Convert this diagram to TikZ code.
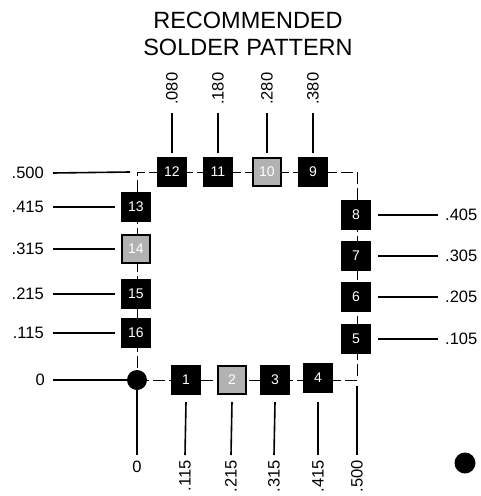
\documentclass[tikz,border=0pt]{standalone}
\usepackage{fontspec}
\setmainfont{Liberation Sans}
\begin{document}
\begin{tikzpicture}[x=1pt,y=-1pt,
  pad/.style={draw=black, line width=1pt, fill=black, text=white, minimum size=29pt, inner sep=0pt, font=\fontsize{14}{14}\selectfont},
  graypad/.style={pad, fill=black!30, line width=1.6pt, minimum size=28.4pt},
  lbl/.style={font=\fontsize{16.5}{16.5}\selectfont, inner sep=0pt},
  lead/.style={line width=1.6pt},
  frame/.style={line width=0.9pt, dash pattern=on 12pt off 4pt},
  dot/.style={circle, fill=black, minimum size=20pt, inner sep=0pt}]
\useasboundingbox (0,0) rectangle (480,496);
% frame corners
\coordinate (c0) at (137,380);
\coordinate (cBR) at (357,380);
\coordinate (cTR) at (357,172);
\coordinate (cTL) at (137,172);
\draw[frame] (c0) -- (cBR) -- (cTR) -- (cTL) -- cycle;
% title
\node[font=\fontsize{23.5}{27}\selectfont, align=center] (title) at (248,34) {RECOMMENDED\\SOLDER PATTERN};
% origin dot
\node[dot] (o) at (c0) {};
% pads bottom
\node[pad] (p1) at (186,380) {1};
\node[graypad] (p2) at (232,380) {2};
\node[pad] (p3) at (275,380) {3};
\node[pad] (p4) at (318,378) {4};
% pads right
\node[pad] (p5) at (356,339) {5};
\node[pad] (p6) at (356,297) {6};
\node[pad] (p7) at (356,256) {7};
\node[pad] (p8) at (356,215) {8};
% pads top
\node[pad] (p9) at (313,172) {9};
\node[graypad] (p10) at (267,172) {10};
\node[pad] (p11) at (218,172) {11};
\node[pad] (p12) at (172,172) {12};
% pads left
\node[pad] (p13) at (136,207) {13};
\node[graypad] (p14) at (136,249) {14};
\node[pad] (p15) at (136,294) {15};
\node[pad] (p16) at (136,333) {16};
% left labels
\node[lbl, anchor=east] (l500) at (44,173) {.500};
\node[lbl, anchor=east] (l415) at (44,207) {.415};
\node[lbl, anchor=east] (l315) at (44,249) {.315};
\node[lbl, anchor=east] (l215) at (44,294) {.215};
\node[lbl, anchor=east] (l115) at (44,333) {.115};
\node[lbl, anchor=east] (l0) at (45,380) {0};
\draw[lead] ([xshift=9pt]l500.east) -- ([xshift=-7pt]cTL);
\draw[lead] ([xshift=9pt]l415.east) -- ([xshift=-6pt]p13.west);
\draw[lead] ([xshift=9pt]l315.east) -- ([xshift=-6pt]p14.west);
\draw[lead] ([xshift=9pt]l215.east) -- ([xshift=-6pt]p15.west);
\draw[lead] ([xshift=9pt]l115.east) -- ([xshift=-6pt]p16.west);
\draw[lead] ([xshift=8pt]l0.east) -- (o.west);
% right labels
\node[lbl, anchor=west] (r405) at (445,215) {.405};
\node[lbl, anchor=west] (r305) at (445,256) {.305};
\node[lbl, anchor=west] (r205) at (445,297) {.205};
\node[lbl, anchor=west] (r105) at (445,339) {.105};
\draw[lead] ([xshift=-7pt]r405.west) -- ([xshift=7pt]p8.east);
\draw[lead] ([xshift=-7pt]r305.west) -- ([xshift=7pt]p7.east);
\draw[lead] ([xshift=-7pt]r205.west) -- ([xshift=7pt]p6.east);
\draw[lead] ([xshift=-7pt]r105.west) -- ([xshift=7pt]p5.east);
% top labels
\node[lbl, rotate=90, anchor=west] (t080) at (172,105) {.080};
\node[lbl, rotate=90, anchor=west] (t180) at (218,105) {.180};
\node[lbl, rotate=90, anchor=west] (t280) at (267,105) {.280};
\node[lbl, rotate=90, anchor=west] (t380) at (313,105) {.380};
\draw[lead] ([yshift=-8pt]t080.west) -- ([yshift=4pt]p12.north);
\draw[lead] ([yshift=-8pt]t180.west) -- ([yshift=4pt]p11.north);
\draw[lead] ([yshift=-8pt]t280.west) -- ([yshift=4pt]p10.north);
\draw[lead] ([yshift=-8pt]t380.west) -- ([yshift=4pt]p9.north);
% bottom labels
\node[lbl] (b0) at (137,467) {0};
\node[lbl, rotate=90, anchor=east] (b115) at (185,460) {.115};
\node[lbl, rotate=90, anchor=east] (b215) at (231,460) {.215};
\node[lbl, rotate=90, anchor=east] (b315) at (274,460) {.315};
\node[lbl, rotate=90, anchor=east] (b415) at (318,460) {.415};
\node[lbl, rotate=90, anchor=east] (b500) at (357,460) {.500};
\draw[lead] (o.south) -- ([yshift=6pt]b0.north);
\draw[lead] ([yshift=-7pt]p1.south) -- ([yshift=5pt]b115.east);
\draw[lead] ([yshift=-7pt]p2.south) -- ([yshift=5pt]b215.east);
\draw[lead] ([yshift=-7pt]p3.south) -- ([yshift=5pt]b315.east);
\draw[lead] ([yshift=-9pt]p4.south) -- ([yshift=5pt]b415.east);
\draw[lead] ([yshift=-6pt]cBR) -- ([yshift=5pt]b500.east);
% pin marker
\node[dot, minimum size=21pt] (pin) at (465,463) {};
\end{tikzpicture}
\end{document}
